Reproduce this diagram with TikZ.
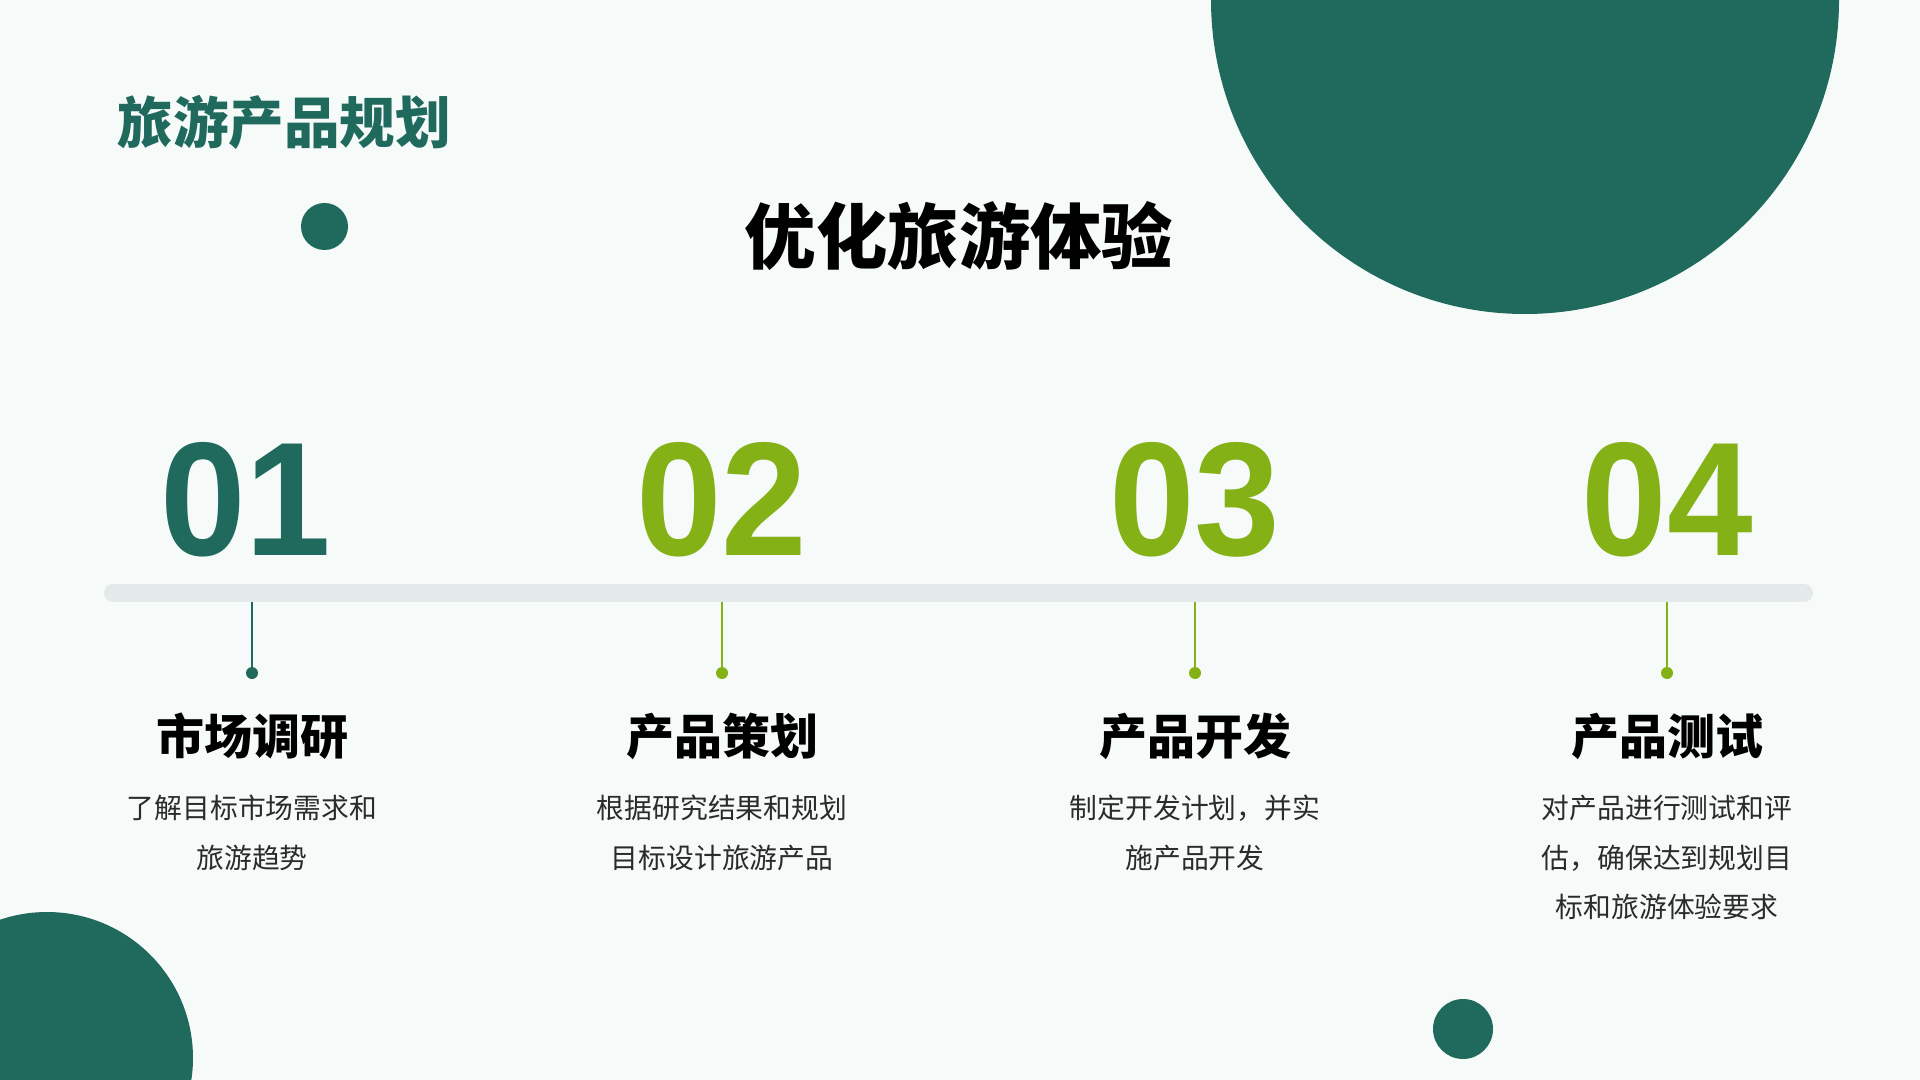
\documentclass[tikz,border=0pt]{standalone}
\usepackage{fontspec}
\newfontfamily\cjk{Noto Sans CJK SC}
\newfontfamily\cjkheavy{Noto Sans CJK SC Black}
\newfontfamily\numfont{Liberation Sans}[FakeStretch=0.95]
\definecolor{deepgreen}{HTML}{206A5D}
\definecolor{leafgreen}{HTML}{84B216}
\definecolor{bargray}{HTML}{E4E9E9}
\definecolor{bgmint}{HTML}{F6FBFA}
\definecolor{descgray}{HTML}{2B2B2B}

\begin{document}
\begin{tikzpicture}[x=0.5pt, y=-0.5pt, font=\cjk,
    numlabel/.style={font=\numfont\bfseries\fontsize{81}{81}\selectfont, inner sep=0},
    headlabel/.style={font=\cjkheavy\fontsize{24}{28}\selectfont, inner sep=0},
    desclabel/.style={font=\cjk\fontsize{13.9}{24.75}\selectfont, text=descgray, align=center, inner sep=0, anchor=north},
    pin/.style={circle, inner sep=0, minimum size=6pt}]
        \fill[bgmint] (0,0) rectangle (1920,1080);
        \useasboundingbox (0,0) rectangle (1920,1080);
        % round shapes
        \fill[deepgreen] (1525,0) circle[radius=314];
        \fill[deepgreen] (47,1058) circle[radius=146];
        \fill[deepgreen] (324.5,226.5) circle[radius=23.5];
        \fill[deepgreen] (1463,1029) circle[radius=30];
        % titles
        \node[font=\cjkheavy\fontsize{27.8}{30}\selectfont, text=deepgreen, anchor=west, inner sep=0] (title) at (117,122) {旅游产品规划};
        \node[font=\cjkheavy\fontsize{35.7}{40}\selectfont, inner sep=0] (headline) at (959,236) {优化旅游体验};
        % timeline
        \coordinate (barL) at (113,593);
        \coordinate (barR) at (1804,593);
        \draw[bargray, line width=9pt, line cap=round] (barL) -- (barR);
        \foreach \x/\nx/\num/\col/\head/\desc [count=\i] in {
            252/246/01/deepgreen/市场调研/{了解目标市场需求和\\旅游趋势},
            722/722/02/leafgreen/产品策划/{根据研究结果和规划\\目标设计旅游产品},
            1195/1195/03/leafgreen/产品开发/{制定开发计划，并实\\施产品开发},
            1667/1667/04/leafgreen/产品测试/{对产品进行测试和评\\估，确保达到规划目\\标和旅游体验要求}} {
            \node[numlabel, text=\col] (num\i) at (\nx,500) {\num};
            \coordinate (tick\i) at (\x,602);
            \node[pin, fill=\col] (dot\i) at (\x,673) {};
            \draw[\col, line width=0.75pt] (tick\i) -- (dot\i.center);
            \node[headlabel] (head\i) at (\x,736) {\head};
            \node[desclabel] (desc\i) at (\x,795) {\desc};
        }
    \end{tikzpicture}
\end{document}
